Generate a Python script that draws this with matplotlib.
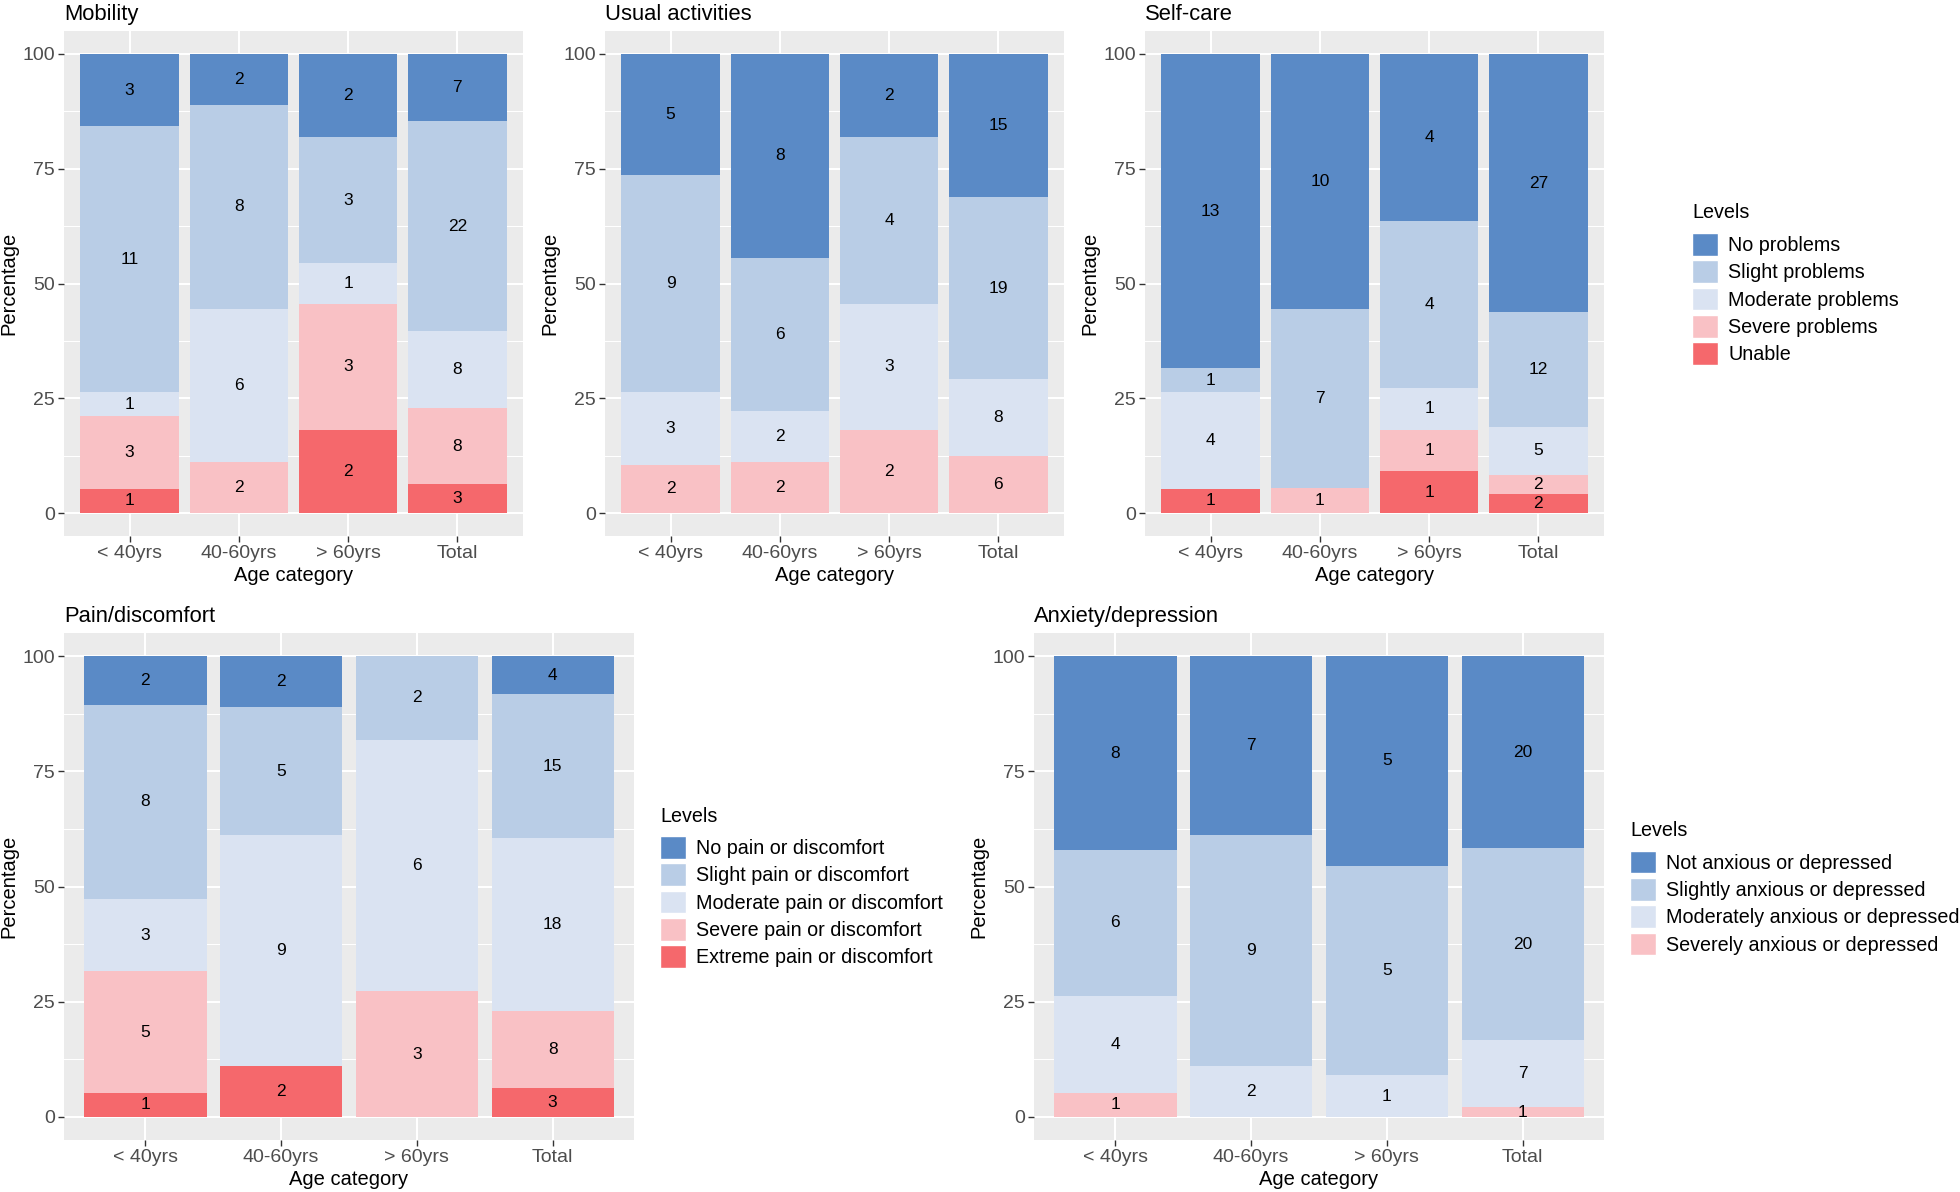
import matplotlib
matplotlib.use("Agg")
import matplotlib.pyplot as plt
from matplotlib.patches import Patch
import numpy as np

plt.rcParams['font.family'] = ['Liberation Sans', 'DejaVu Sans']

# age groups on the x axis
age_groups = ['< 40yrs', '40-60yrs', '> 60yrs', 'Total']

# counts per level (rows, top level first) and age group (columns)
mobility_counts = [
    [3, 2, 2, 7],
    [11, 8, 3, 22],
    [1, 6, 1, 8],
    [3, 2, 3, 8],
    [1, 0, 2, 3],
]
usual_counts = [
    [5, 8, 2, 15],
    [9, 6, 4, 19],
    [3, 2, 3, 8],
    [2, 2, 2, 6],
    [0, 0, 0, 0],
]
selfcare_counts = [
    [13, 10, 4, 27],
    [1, 7, 4, 12],
    [4, 0, 1, 5],
    [0, 1, 1, 2],
    [1, 0, 1, 2],
]
pain_counts = [
    [2, 2, 0, 4],
    [8, 5, 2, 15],
    [3, 9, 6, 18],
    [5, 0, 3, 8],
    [1, 2, 0, 3],
]
anxiety_counts = [
    [8, 7, 5, 20],
    [6, 9, 5, 20],
    [4, 2, 1, 7],
    [1, 0, 0, 1],
]

problem_levels = ['No problems', 'Slight problems', 'Moderate problems',
                  'Severe problems', 'Unable']
pain_levels = ['No pain or discomfort', 'Slight pain or discomfort',
               'Moderate pain or discomfort', 'Severe pain or discomfort',
               'Extreme pain or discomfort']
anxiety_levels = ['Not anxious or depressed', 'Slightly anxious or depressed',
                  'Moderately anxious or depressed', 'Severely anxious or depressed']

level_colors = ['#5A8AC6', '#B9CDE6', '#DAE3F2', '#F9C1C5', '#F5686C']

W, H = 1960, 1192
fig = plt.figure(figsize=(W / 100, H / 100), dpi=100)


def draw_panel(rect, title, counts, levels=None, legend_x=None, items_y=None, title_y=None):
    ax = fig.add_axes(rect)
    counts = np.array(counts, dtype=float)
    pct = counts / counts.sum(axis=0) * 100
    x = np.arange(1, len(age_groups) + 1)

    # stack from the last level (bottom) up to the first (top)
    bottom = np.zeros(len(age_groups))
    for i in range(len(counts) - 1, -1, -1):
        ax.bar(x, pct[i], width=0.9, bottom=bottom, color=level_colors[i],
               linewidth=0, zorder=2)
        for j in range(len(x)):
            if counts[i, j] > 0:
                ax.text(x[j], bottom[j] + pct[i, j] / 2, '%d' % counts[i, j],
                        ha='center', va='center', fontsize=12.5, color='black',
                        zorder=3)
        bottom += pct[i]

    ax.set_facecolor('#EBEBEB')
    for s in ax.spines.values():
        s.set_visible(False)
    ax.set_xlim(0.4, len(age_groups) + 0.6)
    ax.set_ylim(-5, 105)
    ax.set_xticks(x)
    ax.set_xticklabels(age_groups)
    ax.set_yticks([0, 25, 50, 75, 100])
    ax.set_yticks([12.5, 37.5, 62.5, 87.5], minor=True)
    ax.grid(which='major', color='white', linewidth=1.5, zorder=0)
    ax.grid(which='minor', axis='y', color='white', linewidth=0.75, zorder=0)
    ax.set_axisbelow(True)
    ax.tick_params(which='major', length=4, width=1, color='#333333',
                   labelcolor='#4D4D4D', labelsize=14, pad=2.5)
    ax.tick_params(which='minor', length=0)
    ax.set_xlabel('Age category', fontsize=14.5, labelpad=3)
    ax.set_ylabel('Percentage', fontsize=14.5, labelpad=3)
    ax.set_title(title, loc='left', fontsize=15.8, pad=8)

    if levels is not None:
        handles = [Patch(facecolor=level_colors[i], edgecolor='white', linewidth=1)
                   for i in range(len(levels))]
        fig.legend(handles, levels, loc='center left',
                   bbox_to_anchor=(legend_x, 1 - items_y / H), frameon=False,
                   fontsize=14.2, handlelength=1.3, handleheight=1.4,
                   labelspacing=0.23, handletextpad=0.55, borderpad=0,
                   borderaxespad=0)
        fig.text(legend_x, 1 - title_y / H, 'Levels', fontsize=14.2,
                 ha='left', va='center')
    return ax


top_h = 505 / H
bot_h = 507 / H
draw_panel([64 / W, 1 - 536 / H, 459 / W, top_h], 'Mobility', mobility_counts)
draw_panel([605 / W, 1 - 536 / H, 459 / W, top_h], 'Usual activities', usual_counts)
draw_panel([1145 / W, 1 - 536 / H, 459 / W, top_h], 'Self-care', selfcare_counts,
           problem_levels, 1692 / W, 299, 213)
draw_panel([64 / W, 1 - 1140 / H, 570 / W, bot_h], 'Pain/discomfort', pain_counts,
           pain_levels, 660 / W, 902, 816)
draw_panel([1034 / W, 1 - 1140 / H, 570 / W, bot_h], 'Anxiety/depression',
           anxiety_counts, anxiety_levels, 1630 / W, 903, 830)

fig.savefig('out.png', dpi=100)
